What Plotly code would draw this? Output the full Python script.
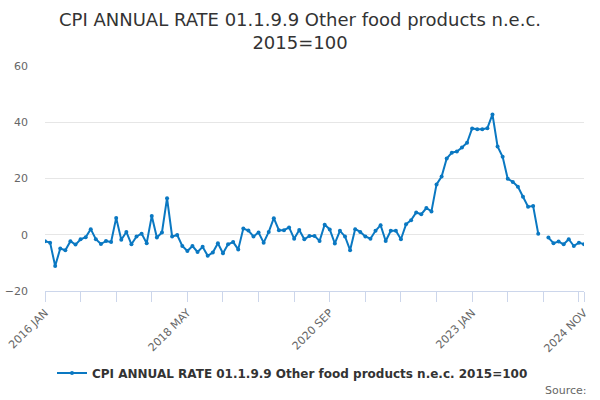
import plotly.graph_objects as go

month_names = ["JAN", "FEB", "MAR", "APR", "MAY", "JUN", "JUL", "AUG", "SEP", "OCT", "NOV", "DEC"]
categories = [f"{2016 + k // 12} {month_names[k % 12]}" for k in range(107)]

values = [
    -2.3, -2.8, -11.1, -4.9, -5.5, -2.3, -3.5, -1.6, -0.9, 2.0, -1.6, -3.3,
    -2.2, -2.6, 6.0, -1.8, 1.0, -3.4, -0.6, 0.4, -3.0, 6.7, -1.0, 0.8,
    13.0, -0.6, -0.1, -4.0, -5.8, -4.0, -6.1, -4.3, -7.5, -6.3, -3.0, -6.6,
    -3.4, -2.6, -5.2, 2.2, 1.5, -0.6, 0.8, -2.8, 1.0, 5.9, 1.6, 1.6,
    2.6, -1.4, 1.7, -1.6, -0.4, -0.4, -2.2, 3.6, 1.9, -3.1, 1.4, -0.6,
    -5.5, 2.0, 1.0, -0.6, -1.4, 1.4, 3.4, -2.2, 1.4, 1.4, -1.6, 3.7,
    5.2, 7.9, 7.3, 9.5, 8.3, 17.9, 20.7, 27.1, 29.2, 29.6, 31.0, 32.7,
    37.8, 37.5, 37.5, 37.9, 42.8, 31.4, 27.7, 19.9, 18.8, 17.1, 13.5, 10.0,
    10.2, 0.4, None, -1.0, -3.0, -2.4, -3.4, -1.6, -4.0, -2.8, -3.4,
]

tick_positions = list(range(0, 106, 7)) + [106]
labelled = ["2016 JAN", "2018 MAY", "2020 SEP", "2023 JAN", "2024 NOV"]
tick_text = [categories[p] if categories[p] in labelled else "" for p in tick_positions]

series_name = "CPI ANNUAL RATE 01.1.9.9 Other food products n.e.c. 2015=100"
title_text = "CPI ANNUAL RATE 01.1.9.9 Other food products n.e.c.<br>2015=100"

color = "#0a78c2"
font = "DejaVu Sans"

fig = go.Figure()
fig.add_trace(go.Scatter(
    x=list(range(len(categories))), y=values, name=series_name,
    mode="lines+markers", connectgaps=False,
    line=dict(color=color, width=2),
    marker=dict(color=color, size=4),
    customdata=categories,
    hovertemplate="%{customdata}: %{y}<extra></extra>",
))

fig.update_layout(
    width=600, height=400,
    margin=dict(l=45, r=16, t=66, b=109, autoexpand=False),
    paper_bgcolor="white", plot_bgcolor="white",
    font=dict(family=font, color="#666666", size=11),
    title=dict(text=title_text, x=0.5, xanchor="center", xref="container",
               y=1 - 26 / 400, yanchor="middle", yref="container",
               font=dict(family=font, size=18, color="#333333")),
    showlegend=True,
    legend=dict(orientation="h", x=0.5 - 22 / 539, xanchor="center", xref="paper",
                y=1 - 373 / 400, yanchor="middle", yref="container",
                font=dict(family=font, size=12, color="#333333", weight="bold")),
    xaxis=dict(range=[0, 106], tickmode="array", tickvals=tick_positions, ticktext=tick_text,
               tickangle=-45, showgrid=False, zeroline=False, automargin=False,
               showline=True, linecolor="#ccd6eb", linewidth=1,
               ticks="outside", ticklen=10, tickcolor="#ccd6eb", tickwidth=1,
               tickfont=dict(family=font, size=11, color="#666666")),
    yaxis=dict(range=[-20, 60], tickvals=[-20, 0, 20, 40, 60], showgrid=True,
               gridcolor="#e6e6e6", gridwidth=1, zeroline=False, showline=False,
               ticks="", ticklabelstandoff=16, automargin=False,
               tickfont=dict(family=font, size=11, color="#666666")),
    annotations=[dict(text="Source:", xref="paper", yref="paper",
                      x=(589 - 45) / 539, xanchor="right",
                      y=(291 - 390) / 225, yanchor="middle", showarrow=False,
                      font=dict(family=font, size=11, color="#666666"))],
)

fig.write_html("out.html")
